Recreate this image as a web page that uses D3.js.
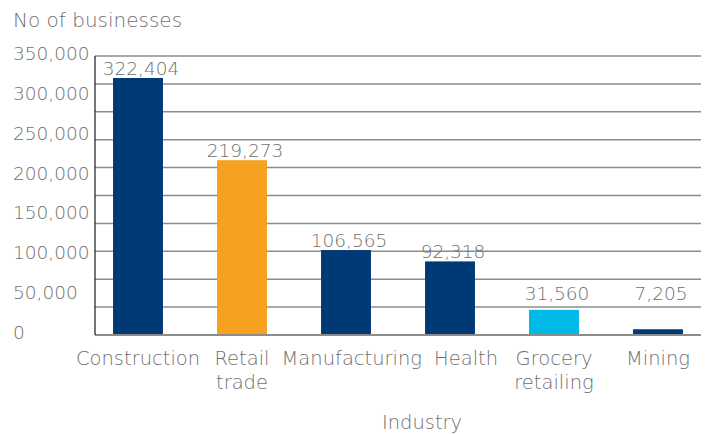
<!DOCTYPE html>
<html>
<head>
<meta charset="utf-8">
<script src="https://cdn.jsdelivr.net/npm/d3@7"></script>
<style>
  body { margin: 0; background: #fff; }
  text { font-family: "DejaVu Sans", sans-serif; fill: #6f6f6f; font-weight: 200; }
</style>
</head>
<body>
<div id="wrapper"></div>
<script>
const industries = ["Construction", "Retail trade", "Manufacturing", "Health", "Grocery retailing", "Mining"]
const businesses = [322404, 219273, 106565, 92318, 31560, 7205]
const barColors = ["#003a76", "#f6a11f", "#003a76", "#003a76", "#00b9e4", "#003a76"]
const tickValues = [0, 50000, 100000, 150000, 200000, 250000, 300000, 350000]
const gridValues = d3.range(0, 350001, 35000)

function drawBusinessChart() {

    let dimensions = {
        width: 707,
        height: 434,
        margin: {
            top: 56,
            right: 6,
            bottom: 99,
            left: 95,
        },
    }
    dimensions.boundedWidth = dimensions.width
        - dimensions.margin.left
        - dimensions.margin.right
    dimensions.boundedHeight = dimensions.height
        - dimensions.margin.top
        - dimensions.margin.bottom

    const wrapper = d3.select("#wrapper")
        .append("svg")
        .attr("width", dimensions.width)
        .attr("height", dimensions.height)

    const bounds = wrapper.append("g")
        .attr("transform", `translate(${dimensions.margin.left},${dimensions.margin.top})`)

    const yScale = d3.scaleLinear()
        .domain([0, 350000])
        .range([dimensions.boundedHeight, 0])

    const xScale = d3.scaleBand()
        .domain(industries)
        .range([-9, 615])
        .paddingInner(0.52)
        .paddingOuter(0.26)

    // gridlines (the original has them every 35,000, not at the labels)
    bounds.append("g")
        .selectAll("line")
        .data(gridValues.filter(d => d > 0))
        .join("line")
        .attr("x1", 0)
        .attr("x2", dimensions.boundedWidth)
        .attr("y1", d => yScale(d))
        .attr("y2", d => yScale(d))
        .attr("stroke", "#8c8c8c")
        .attr("stroke-width", 1.5)

    // y labels, left aligned
    wrapper.append("g")
        .selectAll("text")
        .data(tickValues)
        .join("text")
        .attr("x", 13)
        .attr("y", d => dimensions.margin.top + yScale(d) - 1)
        .attr("dominant-baseline", "middle")
        .style("font-size", "18.5px")
        .text(d => d3.format(",")(d))

    bounds.selectAll(".bar")
        .data(businesses)
        .join("rect")
        .attr("class", "bar")
        .attr("x", (d, i) => xScale(industries[i]))
        .attr("width", xScale.bandwidth())
        .attr("y", d => yScale(d))
        .attr("height", d => dimensions.boundedHeight - yScale(d))
        .attr("fill", (d, i) => barColors[i])

    bounds.selectAll(".value")
        .data(businesses)
        .join("text")
        .attr("class", "value")
        .attr("x", (d, i) => xScale(industries[i]) + xScale.bandwidth() / 2 + 3)
        .attr("y", d => Math.min(yScale(d) - 3, 244))
        .attr("text-anchor", "middle")
        .style("font-size", "18.5px")
        .text(d => d3.format(",")(d))

    // axis lines
    bounds.append("line")
        .attr("x1", 0).attr("x2", dimensions.boundedWidth)
        .attr("y1", dimensions.boundedHeight).attr("y2", dimensions.boundedHeight)
        .attr("stroke", "#8c8c8c")
        .attr("stroke-width", 2)
    bounds.append("line")
        .attr("x1", 0).attr("x2", 0)
        .attr("y1", 0).attr("y2", dimensions.boundedHeight)
        .attr("stroke", "#1a1a1a")
        .attr("stroke-width", 1.2)

    // category labels, split on the space for two-word names
    const catLabels = bounds.selectAll(".cat")
        .data(industries)
        .join("text")
        .attr("class", "cat")
        .attr("x", d => xScale(d) + xScale.bandwidth() / 2)
        .attr("y", dimensions.boundedHeight + 30)
        .attr("text-anchor", "middle")
        .style("font-size", "19.5px")
    catLabels.selectAll("tspan")
        .data(d => d.split(" "))
        .join("tspan")
        .attr("dy", (d, i) => i == 0 ? 0 : 24)
        .text(d => d)

    // push labels apart like excel does when they crowd
    let prevRight = -Infinity
    catLabels.each(function(d) {
        const label = d3.select(this)
        const w = d3.max(label.selectAll("tspan").nodes(), n => n.getComputedTextLength())
        let cx = xScale(d) + xScale.bandwidth() / 2
        if (cx - w / 2 < prevRight + 12) cx = prevRight + 12 + w / 2
        prevRight = cx + w / 2
        label.attr("x", cx)
        label.selectAll("tspan").attr("x", cx)
    })

    wrapper.append("text")
        .attr("x", 422)
        .attr("y", 429)
        .attr("text-anchor", "middle")
        .style("font-size", "19.5px")
        .text("Industry")

    wrapper.append("text")
        .attr("x", 13)
        .attr("y", 27)
        .style("font-size", "20px")
        .text("No of businesses")
}
drawBusinessChart()
</script>
</body>
</html>
